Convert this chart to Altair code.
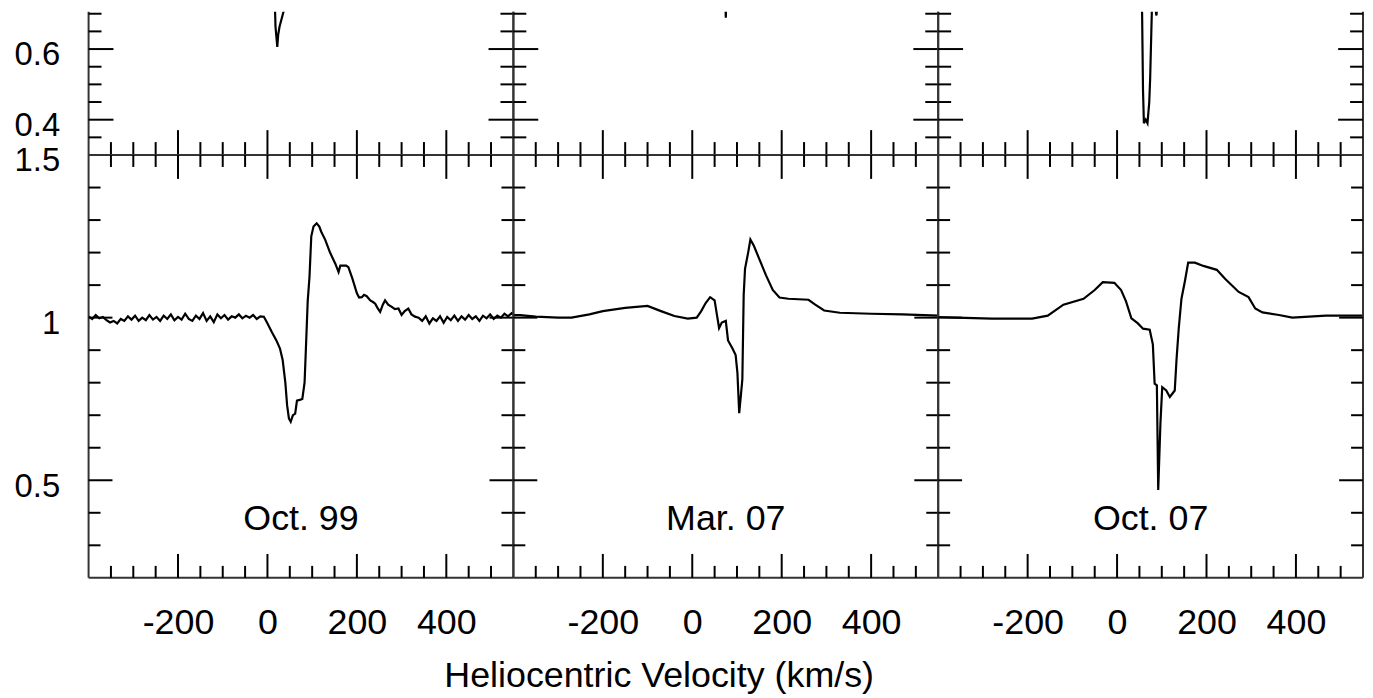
import altair as alt
import pandas as pd

FONT = "Liberation Sans"
panel_labels = ["Oct. 99", "Mar. 07", "Oct. 07"]
x_title = "Heliocentric Velocity (km/s)"

# ---------------- bottom row spectra ----------------
oct99_v = [-400, -392, -384, -376, -368, -360, -352, -344, -336, -328,
           -320, -312, -304, -296, -288, -280, -272, -264, -256, -248,
           -240, -232, -224, -216, -208, -200, -192, -184, -176, -168,
           -160, -152, -144, -136, -128, -120, -112, -104, -96, -88,
           -80, -72, -64, -56, -48, -40, -32, -24, -16, -8,
           -1, 10, 20, 28, 34, 40, 44, 48, 52, 57,
           62, 66, 74, 78, 83, 86, 90, 94, 98, 103,
           110, 116, 120, 129, 140, 152, 159, 163, 176, 181,
           190, 200, 205, 211, 216, 222, 230, 236, 241, 246,
           252, 258, 263, 270, 278, 285, 293, 300, 307, 315,
           322, 330,
           338, 346, 354, 362, 370, 378, 386, 394, 402, 410,
           418, 426, 434, 442, 450, 458, 466, 474, 482, 490,
           498, 506, 514, 522, 530, 538, 546, 550]
oct99_f = [1.004, 0.996, 1.008, 0.998, 1.002, 0.992, 0.985, 0.99, 0.982, 0.996,
           0.99, 1.004, 0.994, 1.006, 0.99, 1.0, 0.992, 1.008, 0.994, 1.002,
           0.99, 1.006, 0.996, 1.01, 0.992, 1.002, 0.994, 1.012, 0.996, 0.99,
           1.006, 0.996, 1.014, 0.99, 1.004, 0.986, 1.01, 0.998, 1.008, 0.994,
           1.004, 1.0, 1.01, 0.998, 1.006, 1.0, 1.008, 0.996, 1.004, 1.003,
           0.985, 0.955, 0.93, 0.905, 0.87, 0.80, 0.73, 0.69, 0.68, 0.70,
           0.705, 0.745, 0.748, 0.75, 0.80, 0.905, 1.05, 1.125, 1.25, 1.28,
           1.29, 1.28, 1.265, 1.24, 1.20, 1.165, 1.14, 1.16, 1.16, 1.155,
           1.12, 1.075, 1.062, 1.063, 1.07, 1.066, 1.053, 1.048, 1.043, 1.03,
           1.018, 1.04, 1.053, 1.04, 1.033, 1.026, 1.028, 1.008, 1.02, 1.028,
           1.01, 1.003,
           1.0, 0.99, 1.004, 0.982, 0.998, 0.99, 1.004, 0.984, 1.002, 0.992,
           1.006, 0.99, 1.004, 0.994, 1.008, 0.996, 1.004, 0.99, 1.006, 0.998,
           1.01, 0.996, 1.006, 1.0, 1.012, 1.004, 1.014, 1.01]

mar07_v = [-400, -385, -350, -300, -270, -230, -200, -150, -100, -70,
           -40, -10, 10, 20, 30, 40, 50, 55, 60, 66,
           75, 80, 90, 97, 101, 105, 108, 112, 115, 118,
           125, 130, 138, 150, 165, 180, 195, 215, 260, 275,
           295, 330, 400, 470, 550]
mar07_f = [1.008, 1.008, 1.003, 1.0, 1.0, 1.01, 1.02, 1.03, 1.036, 1.02,
           1.005, 0.997, 1.0, 1.02, 1.045, 1.063, 1.053, 1.01, 0.968, 0.985,
           0.99, 0.93, 0.905, 0.885, 0.83, 0.706, 0.75, 0.81, 1.07, 1.15,
           1.20, 1.24, 1.22, 1.18, 1.13, 1.085, 1.062, 1.058, 1.055, 1.04,
           1.022, 1.015, 1.012, 1.01, 1.006]

oct07_v = [-400, -360, -280, -190, -155, -120, -75, -50, -32, -6,
           9, 20, 32, 46, 58, 73, 80, 84, 89, 92,
           97, 101, 110, 118, 129, 133, 138, 144, 152, 159,
           174, 193, 223, 242, 272, 294, 309, 325, 362, 392,
           467, 550]
oct07_f = [1.002, 1.0, 0.997, 0.997, 1.006, 1.04, 1.058, 1.085, 1.109, 1.107,
           1.085, 1.05, 0.998, 0.983, 0.966, 0.963, 0.918, 0.797, 0.792, 0.47,
           0.676, 0.786, 0.776, 0.756, 0.776, 0.872, 0.968, 1.058, 1.114, 1.169,
           1.169, 1.159, 1.147, 1.119, 1.079, 1.063, 1.028, 1.016, 1.008, 1.0,
           1.006, 1.006]

# ---------------- top row (only the lowest part is visible) ----------------
top1_v = [15, 18, 22, 24, 27, 42]
top1_f = [0.80, 0.663, 0.606, 0.64, 0.663, 0.735]
top2_v = [73, 75, 77]
top2_f = [0.78, 0.689, 0.78]
top3_v = [52, 56, 58, 60, 64, 68, 72, 74, 78, 82, 88, 92]
top3_f = [0.80, 0.70, 0.484, 0.39, 0.40, 0.39, 0.45, 0.517, 0.719, 0.75, 0.695, 0.75]

# ---------------- ticks ----------------
x_label_values = [-200, 0, 200, 400]
x_major = [-200, 0, 200, 400]
x_minor = [-350, -300, -250, -150, -100, -50, 50, 100, 150, 250, 300, 350, 450, 500]
top_y_labels = [0.4, 0.6]
top_y_major = [0.4, 0.6]
top_y_minor = [0.35, 0.45, 0.5, 0.55, 0.65, 0.7]
bot_y_labels = [0.5, 1.0, 1.5]
bot_y_major = [0.5, 1.0]
bot_y_minor = [0.3, 0.4, 0.6, 0.7, 0.8, 0.9, 1.1, 1.2, 1.3, 1.4]

W = 427
H_TOP = 144
H_BOT = 425
X_DOMAIN = [-400, 550]
Y_DOMAIN_TOP = [0.3, 0.7056]
Y_DOMAIN_BOT = [0.2, 1.5]
FRAME = "#333333"


def panel(v, f, row, col):
    top = row == 0
    H = H_TOP if top else H_BOT
    xs = alt.Scale(domain=X_DOMAIN, nice=False, zero=False)
    ys = alt.Scale(domain=Y_DOMAIN_TOP if top else Y_DOMAIN_BOT, nice=False, zero=False)

    if top:
        xaxis = None
    else:
        ax = dict(values=x_label_values, ticks=False, domain=False, grid=False,
                  labelFont=FONT, labelFontSize=36, labelColor="black",
                  labelPadding=28, labelFlush=False, labelOverlap=False,
                  labelExpr="datum.value < 0 ? '-' + abs(datum.value) : '' + datum.value")
        if col == 1:
            ax.update(title=x_title, titleFont=FONT, titleFontSize=36,
                      titleFontWeight="normal", titleColor="black",
                      titlePadding=18, titleX=146, titleAlign="center")
        else:
            ax["title"] = None
        xaxis = alt.Axis(**ax)

    if col == 0:
        yaxis = alt.Axis(values=top_y_labels if top else bot_y_labels,
                         ticks=False, domain=False, grid=False,
                         labelFont=FONT, labelFontSize=33, labelColor="black",
                         labelPadding=29, labelOffset=6, format="~g",
                         labelFlush=False, labelOverlap=False, title=None)
    else:
        yaxis = None

    X = alt.X("v:Q", scale=xs, axis=xaxis)
    Y = alt.Y("f:Q", scale=ys, axis=yaxis)

    MJ, MN = (25, 13) if top else (24, 12)
    ymaj = top_y_major if top else bot_y_major
    ymin = top_y_minor if top else bot_y_minor

    def xt(vals, y0, y1):
        return alt.Chart(pd.DataFrame({"v": vals})).mark_rule(
            color="black", strokeWidth=2).encode(x=X, y=alt.value(y0), y2=alt.value(y1))

    def yt(vals, x0, x1):
        return alt.Chart(pd.DataFrame({"f": vals})).mark_rule(
            color="black", strokeWidth=2).encode(y=Y, x=alt.value(x0), x2=alt.value(x1))

    one = pd.DataFrame({"k": [0]})

    def frame(**enc):
        return alt.Chart(one).mark_rule(color=FRAME, strokeWidth=2).encode(**enc)

    layers = [alt.Chart(pd.DataFrame({"v": v, "f": f})).mark_line(
        color="black", strokeWidth=2.2, clip=True).encode(x=X, y=Y)]
    layers += [frame(x=alt.value(0), y=alt.value(0), y2=alt.value(H)),
               frame(x=alt.value(W), y=alt.value(0), y2=alt.value(H)),
               frame(y=alt.value(H), x=alt.value(0), x2=alt.value(W))]
    if not top:
        layers.append(frame(y=alt.value(0), x=alt.value(0), x2=alt.value(W)))
    layers += [xt(x_major, H, H - MJ), xt(x_minor, H, H - MN)]
    if not top:
        layers += [xt(x_major, 0, MJ), xt(x_minor, 0, MN)]
    layers += [yt(ymaj, 0, MJ), yt(ymin, 0, MN), yt(ymaj, W, W - MJ), yt(ymin, W, W - MN)]
    if not top:
        layers.append(alt.Chart(pd.DataFrame({"label": [panel_labels[col]]})).mark_text(
            font=FONT, fontSize=36, align="center", baseline="middle", color="black"
        ).encode(text="label:N", x=alt.value(W / 2), y=alt.value(366)))
    return alt.layer(*layers).properties(width=W, height=H)


panels = [
    panel(top1_v, top1_f, 0, 0), panel(top2_v, top2_f, 0, 1), panel(top3_v, top3_f, 0, 2),
    panel(oct99_v, oct99_f, 1, 0), panel(mar07_v, mar07_f, 1, 1), panel(oct07_v, oct07_f, 1, 2),
]

chart = alt.concat(*panels, columns=3, spacing=0, bounds="flush").properties(
    padding={"left": 5, "top": 0, "right": 0, "bottom": 0}
).configure_view(stroke="transparent")

chart.save("out.html", embed_options={"renderer": "svg", "actions": False})
